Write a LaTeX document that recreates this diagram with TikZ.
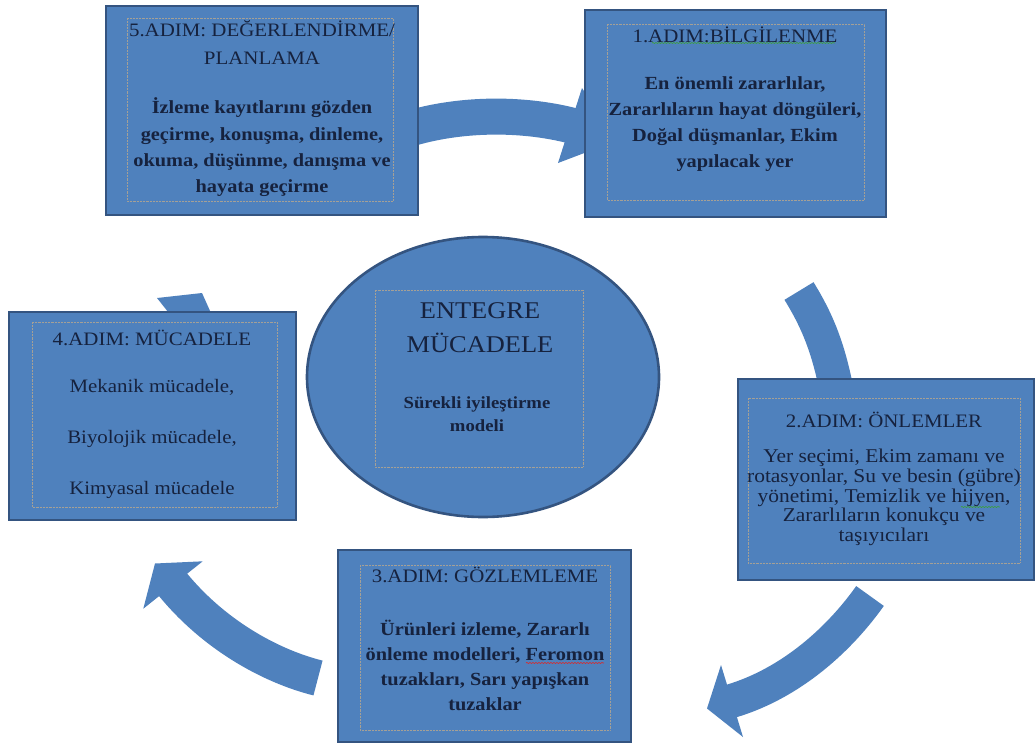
\documentclass[tikz,border=0pt]{standalone}
\usepackage{fontspec}
\setmainfont{Liberation Serif}[FakeStretch=1.1]
\usetikzlibrary{shapes.geometric,decorations.pathmorphing}
\definecolor{boxblue}{RGB}{79,129,189}
\definecolor{edgeblue}{RGB}{52,84,128}
\definecolor{txt}{RGB}{22,34,62}
\definecolor{framecol}{RGB}{165,160,150}
\definecolor{spellgreen}{RGB}{60,160,60}
\definecolor{spellred}{RGB}{220,40,40}
\begin{document}
\begin{tikzpicture}[x=1pt,y=-1pt,
  stepbox/.style={draw=edgeblue, line width=2.6pt, fill=boxblue, inner sep=0pt, outer sep=0pt},
  band/.style={draw=boxblue, line width=#1},
  headtri/.style={fill=boxblue, draw=none},
  txtnode/.style={text=txt, align=center, inner sep=0pt},
  textframe/.style={draw=framecol, densely dotted, line width=0.45pt},
  spell/.style={decorate, decoration={snake, segment length=3pt, amplitude=0.6pt}, line width=0.6pt}]
\useasboundingbox (0,0) rectangle (1036,744);
\fill[white] (0,0) rectangle (1036,744);

% ---- block arrows (behind the boxes) ----
% 5 -> 1
\coordinate (a51s) at (405,130);
\coordinate (a51e) at (590,131);
\draw[band=36pt] (a51s) .. controls (465,111) and (537,113) .. (a51e);
\fill[headtri] (582,88) -- (616,141) -- (558,163) -- cycle;
% 1 -> 2
\coordinate (a12s) at (799,291);
\coordinate (a12e) at (840,410);
\draw[band=34pt] (a12s) .. controls (818,322) and (831,352) .. (a12e);
% 2 -> 3
\coordinate (a23s) at (870,596);
\coordinate (a23e) at (728,702);
\draw[band=34pt] (a23s) .. controls (841,637) and (792,684) .. (a23e);
\fill[headtri] (721,665) -- (707,708.5) -- (743,737) -- cycle;
% 3 -> 4
\coordinate (a34s) at (318,678);
\coordinate (a34e) at (170,581);
\draw[band=36pt] (a34s) .. controls (270,666) and (212,634) .. (a34e);
\fill[headtri] (202.7,561.3) -- (155,563.5) -- (143.3,608.7) -- cycle;
% 4 -> 5 (visible stub above box 4)
\fill[headtri] (157,298) -- (202,293) -- (215,322) -- (176,322) -- cycle;

% ---- boxes ----
\node[stepbox, minimum width=312pt, minimum height=209pt] (s5) at (262,110.5) {};
\node[stepbox, minimum width=301pt, minimum height=207pt] (s1) at (735.5,113.5) {};
\node[stepbox, minimum width=296pt, minimum height=201pt] (s2) at (886,479.5) {};
\node[stepbox, minimum width=293pt, minimum height=192pt] (s3) at (484.5,646) {};
\node[stepbox, minimum width=287pt, minimum height=208pt] (s4) at (152.5,416) {};
\node[ellipse, draw=edgeblue, line width=2.6pt, fill=boxblue, inner sep=0pt,
      minimum width=352pt, minimum height=280pt] (core) at (483,377) {};

% ---- inner text frames ----
\draw[textframe] (127,18) rectangle (393,201);
\draw[textframe] (607,24) rectangle (864,200);
\draw[textframe] (748,398) rectangle (1020,563);
\draw[textframe] (360,565) rectangle (610,730);
\draw[textframe] (32,322) rectangle (277,507);
\draw[textframe] (375,290) rectangle (583,467);

% ---- texts ----
\node[txtnode, font=\fontsize{19}{28}\selectfont] (h5) at (262,42.5) {5.ADIM: DEĞERLENDİRME/\\PLANLAMA};
\node[txtnode, font=\fontsize{18.5}{26.3}\selectfont\bfseries] (b5) at (262,147.5) {İzleme kayıtlarını gözden\\geçirme, konuşma, dinleme,\\okuma, düşünme, danışma ve\\hayata geçirme};

\node[txtnode, font=\fontsize{19}{26}\selectfont] (h1) at (735,35) {1.ADIM:BİLGİLENME};
\node[txtnode, font=\fontsize{18.5}{26}\selectfont\bfseries] (b1) at (735,124) {En önemli zararlılar,\\Zararlıların hayat döngüleri,\\Doğal düşmanlar, Ekim\\yapılacak yer};

\node[txtnode, font=\fontsize{19}{20}\selectfont] (h2) at (884,420) {2.ADIM: ÖNLEMLER};
\node[txtnode, font=\fontsize{19.5}{19.8}\selectfont] (b2) at (884,497.5) {Yer seçimi, Ekim zamanı ve\\rotasyonlar, Su ve besin (gübre)\\yönetimi, Temizlik ve hijyen,\\Zararlıların konukçu ve\\taşıyıcıları};

\node[txtnode, font=\fontsize{19}{25}\selectfont] (h3) at (485,575) {3.ADIM: GÖZLEMLEME};
\node[txtnode, font=\fontsize{18.5}{25}\selectfont\bfseries] (b3) at (485,665.5) {Ürünleri izleme, Zararlı\\önleme modelleri, Feromon\\tuzakları, Sarı yapışkan\\tuzaklar};

\node[txtnode, font=\fontsize{19}{25}\selectfont] (h4) at (152,338) {4.ADIM: MÜCADELE};
\node[txtnode, font=\fontsize{19}{51}\selectfont] (b4) at (152,439) {Mekanik mücadele,\\Biyolojik mücadele,\\Kimyasal mücadele};

\node[txtnode, font=\fontsize{24}{34}\selectfont] (et) at (480,328) {ENTEGRE\\MÜCADELE};
\node[txtnode, font=\fontsize{17}{23}\selectfont\bfseries] (es) at (477,414) {Sürekli iyileştirme\\modeli};

% ---- spell-check underlines ----
\coordinate (u1a) at (652,43);  \coordinate (u1b) at (835,43);
\coordinate (u2a) at (961,507); \coordinate (u2b) at (1000,507);
\coordinate (u3a) at (526,663); \coordinate (u3b) at (604,663);
\draw[spell, spellgreen] (u1a) -- (u1b);
\draw[spell, spellgreen] (u2a) -- (u2b);
\draw[spell, spellred] (u3a) -- (u3b);
\end{tikzpicture}
\end{document}
